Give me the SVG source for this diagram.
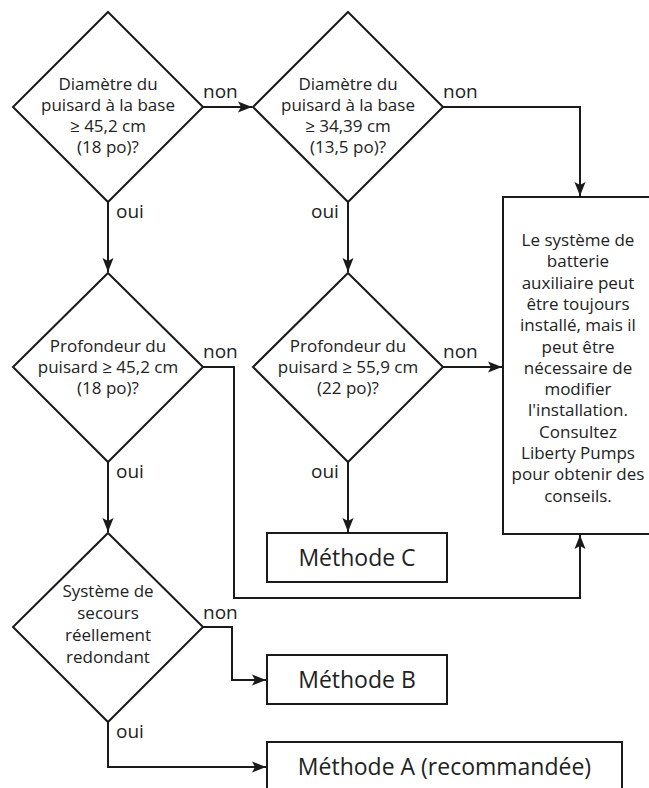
<svg xmlns="http://www.w3.org/2000/svg" width="649" height="788" viewBox="0 0 649 788">
<style>
.shape{fill:#fff;stroke:#1a1a1a;stroke-width:2}
.t{font-family:"Open Sans","Liberation Sans",sans-serif;font-size:17px;fill:#222;text-anchor:middle}
.m{font-family:"Open Sans","Liberation Sans",sans-serif;font-size:23px;fill:#222;text-anchor:middle}
.lb{font-family:"Open Sans","Liberation Sans",sans-serif;font-size:19px;fill:#222}
.c{fill:none;stroke:#1a1a1a;stroke-width:2}
</style>
<defs>
<marker id="ah" markerUnits="userSpaceOnUse" markerWidth="15" markerHeight="12" viewBox="0 0 15 12" refX="14" refY="6" orient="auto">
<path d="M0,0.5 L14,6 L0,11.5 L3,6 z" fill="#1a1a1a"/>
</marker>
</defs>
<rect width="649" height="788" fill="#fff"/>
<g id="connectors">
<path class="c" d="M203,107 H252" marker-end="url(#ah)"/>
<path class="c" d="M443,107 H580 V196" marker-end="url(#ah)"/>
<path class="c" d="M108,202 V272" marker-end="url(#ah)"/>
<path class="c" d="M348,202 V272" marker-end="url(#ah)"/>
<path class="c" d="M203,367 H234 V598 H580 V535" marker-end="url(#ah)"/>
<path class="c" d="M443,367 H502" marker-end="url(#ah)"/>
<path class="c" d="M108,462 V532" marker-end="url(#ah)"/>
<path class="c" d="M348,462 V532" marker-end="url(#ah)"/>
<path class="c" d="M203,627 H232 V680 H266" marker-end="url(#ah)"/>
<path class="c" d="M108,722 V767 H266" marker-end="url(#ah)"/>
<text class="lb" x="203" y="98">non</text>
<text class="lb" x="443" y="98">non</text>
<text class="lb" x="116" y="218">oui</text>
<text class="lb" x="311" y="218">oui</text>
<text class="lb" x="203" y="358">non</text>
<text class="lb" x="443" y="358">non</text>
<text class="lb" x="116" y="478">oui</text>
<text class="lb" x="311" y="478">oui</text>
<text class="lb" x="203" y="619">non</text>
<text class="lb" x="116" y="738">oui</text>
</g>
<g id="d1">
<polygon class="shape" points="108,12 203,107 108,202 13,107"/>
<text class="t" x="108" y="90">Diamètre du</text>
<text class="t" x="108" y="111">puisard à la base</text>
<text class="t" x="108" y="132">≥ 45,2 cm</text>
<text class="t" x="108" y="153">(18 po)?</text>
</g>
<g id="d2">
<polygon class="shape" points="348,12 443,107 348,202 253,107"/>
<text class="t" x="348" y="90">Diamètre du</text>
<text class="t" x="348" y="111">puisard à la base</text>
<text class="t" x="348" y="132">≥ 34,39 cm</text>
<text class="t" x="348" y="153">(13,5 po)?</text>
</g>
<g id="d3">
<polygon class="shape" points="108,273 203,367 108,462 13,367"/>
<text class="t" x="108" y="352">Profondeur du</text>
<text class="t" x="108" y="373">puisard ≥ 45,2 cm</text>
<text class="t" x="108" y="394">(18 po)?</text>
</g>
<g id="d4">
<polygon class="shape" points="348,273 443,367 348,462 253,367"/>
<text class="t" x="348" y="352">Profondeur du</text>
<text class="t" x="348" y="373">puisard ≥ 55,9 cm</text>
<text class="t" x="348" y="394">(22 po)?</text>
</g>
<g id="d5">
<polygon class="shape" points="108,533 203,627 108,722 13,627"/>
<text class="t" x="108" y="597">Système de</text>
<text class="t" x="108" y="619">secours</text>
<text class="t" x="108" y="641">réellement</text>
<text class="t" x="108" y="663">redondant</text>
</g>
<g id="note">
<rect class="shape" x="503" y="197" width="152" height="337"/>
<text class="t" x="578" y="246">Le système de</text>
<text class="t" x="578" y="267.3">batterie</text>
<text class="t" x="578" y="288.6">auxiliaire peut</text>
<text class="t" x="578" y="309.9">être toujours</text>
<text class="t" x="578" y="331.2">installé, mais il</text>
<text class="t" x="578" y="352.5">peut être</text>
<text class="t" x="578" y="373.8">nécessaire de</text>
<text class="t" x="578" y="395.1">modifier</text>
<text class="t" x="578" y="416.4">l'installation.</text>
<text class="t" x="578" y="437.7">Consultez</text>
<text class="t" x="578" y="459">Liberty Pumps</text>
<text class="t" x="578" y="480.3">pour obtenir des</text>
<text class="t" x="578" y="501.6">conseils.</text>
</g>
<g id="mc">
<rect class="shape" x="267" y="533" width="180" height="49"/>
<text class="m" x="357" y="566">Méthode C</text>
</g>
<g id="mb">
<rect class="shape" x="267" y="655" width="180" height="49"/>
<text class="m" x="357" y="688">Méthode B</text>
</g>
<g id="ma">
<rect class="shape" x="267" y="742" width="355" height="49"/>
<text class="m" x="444.5" y="775">Méthode A (recommandée)</text>
</g>
</svg>
